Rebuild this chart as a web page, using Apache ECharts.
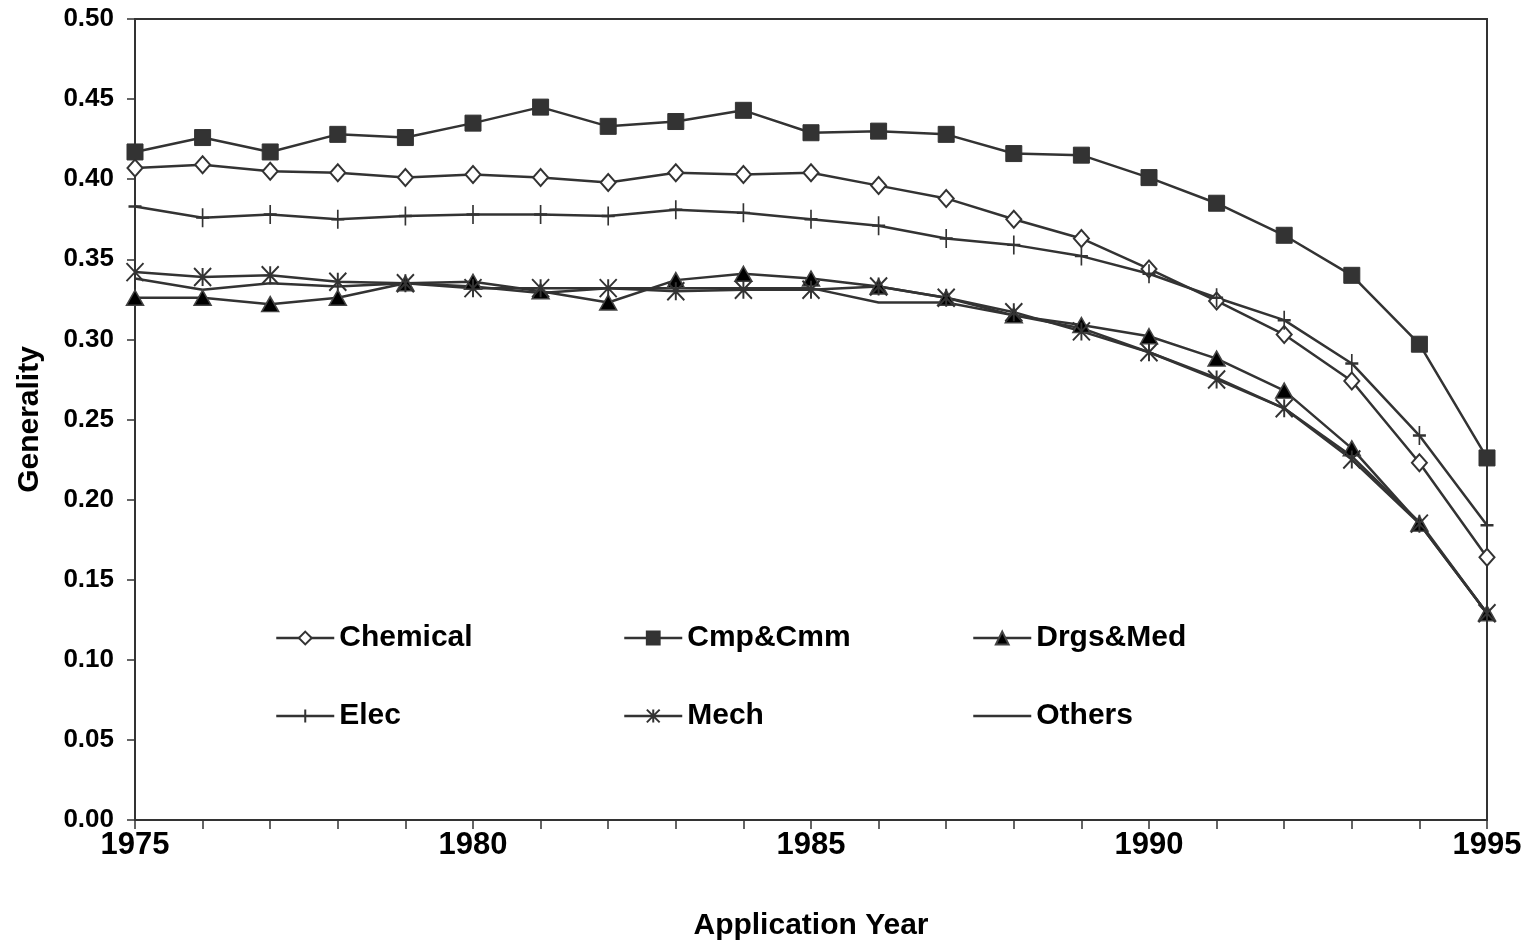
<!DOCTYPE html>
<html>
<head>
<meta charset="utf-8">
<script src="https://cdn.jsdelivr.net/npm/echarts@6/dist/echarts.min.js"></script>
<style>
  html, body { margin: 0; padding: 0; background: #fff; }
  #main { width: 1532px; height: 945px; }
</style>
</head>
<body>
<div id="main"></div>
<script>
// data
var years = [1975, 1976, 1977, 1978, 1979, 1980, 1981, 1982, 1983, 1984, 1985,
  1986, 1987, 1988, 1989, 1990, 1991, 1992, 1993, 1994, 1995];
var chemical = [0.407, 0.409, 0.405, 0.404, 0.401, 0.403, 0.401, 0.398, 0.404, 0.403, 0.404,
  0.396, 0.388, 0.375, 0.363, 0.344, 0.324, 0.303, 0.274, 0.223, 0.164];
var cmpCmm = [0.417, 0.426, 0.417, 0.428, 0.426, 0.435, 0.445, 0.433, 0.436, 0.443, 0.429,
  0.430, 0.428, 0.416, 0.415, 0.401, 0.385, 0.365, 0.340, 0.297, 0.226];
var drgsMed = [0.326, 0.326, 0.322, 0.326, 0.335, 0.336, 0.330, 0.323, 0.337, 0.341, 0.338,
  0.333, 0.326, 0.315, 0.309, 0.302, 0.288, 0.268, 0.232, 0.185, 0.129];
var elec = [0.383, 0.376, 0.378, 0.375, 0.377, 0.378, 0.378, 0.377, 0.381, 0.379, 0.375,
  0.371, 0.363, 0.359, 0.352, 0.341, 0.326, 0.312, 0.285, 0.240, 0.184];
var mech = [0.342, 0.339, 0.340, 0.336, 0.335, 0.332, 0.332, 0.332, 0.330, 0.331, 0.331,
  0.333, 0.326, 0.317, 0.305, 0.292, 0.275, 0.257, 0.225, 0.185, 0.129];
var others = [0.338, 0.331, 0.335, 0.333, 0.335, 0.333, 0.329, 0.332, 0.332, 0.332, 0.332,
  0.323, 0.323, 0.315, 0.307, 0.292, 0.276, 0.257, 0.227, 0.186, 0.129];
var yTicks = [0, 0.05, 0.1, 0.15, 0.2, 0.25, 0.3, 0.35, 0.4, 0.45, 0.5];

var ink = '#333';
var font = 'Liberation Sans, Arial, sans-serif';

function pairs(arr) {
  return years.map(function (y, i) { return [y, arr[i]]; });
}

function mkSeries(name, arr, sym, size, itemStyle) {
  return {
    name: name,
    type: 'line',
    data: pairs(arr),
    symbol: sym,
    symbolSize: size,
    showSymbol: sym !== 'none',
    lineStyle: { color: ink, width: 2.5 },
    itemStyle: itemStyle,
    emphasis: { disabled: true }
  };
}

function legendAt(name, left, top, noMarker) {
  var lg = {
    data: [name],
    left: left,
    top: top,
    padding: 0,
    itemWidth: 58,
    itemHeight: 16,
    lineStyle: { color: ink, width: 2.5 },
    textStyle: { fontFamily: font, fontWeight: 'bold', fontSize: 30, color: '#000' }
  };
  if (noMarker) {
    lg.itemStyle = { color: 'rgba(0,0,0,0)', borderColor: 'rgba(0,0,0,0)', borderWidth: 0 };
  }
  return lg;
}

var chart = echarts.init(document.getElementById('main'));
chart.setOption({
  animation: false,
  backgroundColor: '#fff',
  grid: {
    left: 135, right: 45, top: 19, bottom: 125,
    outerBoundsMode: 'none',
    containLabel: false,
    show: true, borderColor: ink, borderWidth: 2
  },
  legend: [
    legendAt('Chemical', 275, 623),
    legendAt('Cmp&Cmm', 623, 623),
    legendAt('Drgs&Med', 972, 623),
    legendAt('Elec', 275, 701),
    legendAt('Mech', 623, 701),
    legendAt('Others', 972, 701, true)
  ],
  xAxis: {
    type: 'value',
    min: 1975, max: 1995, interval: 1,
    name: 'Application Year',
    nameLocation: 'middle',
    nameGap: 91,
    nameTextStyle: { fontFamily: font, fontWeight: 'bold', fontSize: 30, color: '#000' },
    axisLine: { lineStyle: { color: ink, width: 2 } },
    axisTick: { length: 9, lineStyle: { color: ink, width: 1.5 } },
    splitLine: { show: false },
    axisLabel: {
      margin: 10,
      fontFamily: font, fontWeight: 'bold', fontSize: 31, color: '#000',
      formatter: function (v) { return v % 5 === 0 ? String(v) : ''; }
    }
  },
  yAxis: {
    type: 'value',
    min: 0, max: 0.5, interval: 0.05,
    name: 'Generality',
    nameLocation: 'middle',
    nameGap: 90,
    nameRotate: 90,
    nameTextStyle: { fontFamily: font, fontWeight: 'bold', fontSize: 30, color: '#000' },
    axisLine: { lineStyle: { color: ink, width: 2 } },
    axisTick: { length: 8, lineStyle: { color: ink, width: 1.5 } },
    splitLine: { show: false },
    axisLabel: {
      margin: 21,
      fontFamily: font, fontWeight: 'bold', fontSize: 26, color: '#000',
      formatter: function (v) {
        var t = yTicks.filter(function (k) { return Math.abs(k - v) < 1e-9; });
        return t.length ? v.toFixed(2) : '';
      }
    }
  },
  series: [
    mkSeries('Chemical', chemical, 'diamond', [15, 17],
      { color: '#fff', borderColor: ink, borderWidth: 2 }),
    mkSeries('Cmp&Cmm', cmpCmm, 'rect', 16,
      { color: ink, borderColor: ink, borderWidth: 1 }),
    mkSeries('Drgs&Med', drgsMed, 'triangle', [17, 15],
      { color: '#000', borderColor: '#444', borderWidth: 1.5 }),
    mkSeries('Elec', elec, 'path://M5,0L5,10M0,5L10,5', [13, 19],
      { color: ink, borderColor: ink, borderWidth: 2 }),
    mkSeries('Mech', mech, 'path://M5,0L5,10M0,0L10,10M0,10L10,0', [17, 18],
      { color: ink, borderColor: ink, borderWidth: 2 }),
    mkSeries('Others', others, 'none', 0,
      { color: ink })
  ]
});
</script>
</body>
</html>
